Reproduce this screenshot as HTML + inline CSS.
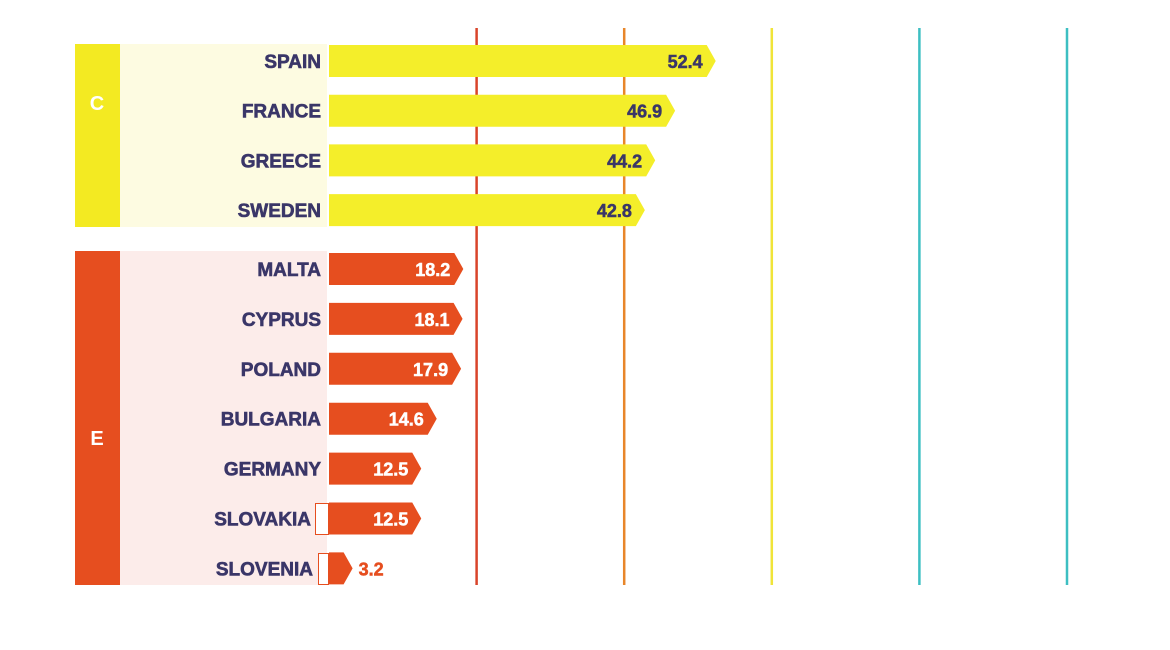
<!DOCTYPE html>
<html><head><meta charset="utf-8"><style>
body{margin:0;width:1170px;height:645px;background:#fff;overflow:hidden;font-family:"Liberation Sans",sans-serif}
</style></head><body>
<svg id="chart" width="1170" height="645" xmlns="http://www.w3.org/2000/svg"></svg>
<script>
const groupC = ["SPAIN","FRANCE","GREECE","SWEDEN"];
const valuesC = [52.4,46.9,44.2,42.8];
const groupE = ["MALTA","CYPRUS","POLAND","BULGARIA","GERMANY","SLOVAKIA","SLOVENIA"];
const valuesE = [18.2,18.1,17.9,14.6,12.5,12.5,3.2];
const gridValues = [20,40,60,80,100];
const gridColors = ["#d9442a","#e8862a","#f0e438","#3dbfc2","#3dbfc2"];

const NS="http://www.w3.org/2000/svg";
const svg=document.getElementById('chart');
const x0=329, k=7.38;
const xs=v=>x0+v*k;
function mk(t,a,p){const e=document.createElementNS(NS,t);for(const n in a)e.setAttribute(n,a[n]);(p||svg).appendChild(e);return e;}

let e;
e=mk('rect',{x:75,y:44,width:45,height:183,fill:'#f3ea22'});


e=mk('rect',{x:120,y:44,width:207,height:183,fill:'#fdfbe1'});


e=mk('rect',{x:75,y:251,width:45,height:334,fill:'#e64e1f'});


e=mk('rect',{x:120,y:251,width:207,height:334,fill:'#fcecea'});


e=mk('text',{x:97,y:110,fill:'#fff','font-size':20,'font-weight':'bold','text-anchor':'middle'});
e.textContent='C';


e=mk('text',{x:97,y:445,fill:'#fff','font-size':20,'font-weight':'bold','text-anchor':'middle'});
e.textContent='E';



gridValues.forEach((g,i)=>{
  const l=mk('line',{x1:xs(g),x2:xs(g),y1:28,y2:585,stroke:gridColors[i],'stroke-width':2.5});
  
  
});

function bar(name,v,cy,fill,txt){
  const end=xs(v), body=Math.max(end-9,x0+4);
  const p=mk('path',{d:`M${x0},${cy-16}L${body},${cy-16}L${end},${cy}L${body},${cy+16}L${x0},${cy+16}Z`,fill:fill});
  
  
  const lab=mk('text',{x:name==='SLOVAKIA'?311:(name==='SLOVENIA'?313:321),y:cy+7,'font-size':19,'font-weight':'bold',fill:'#3a3668',stroke:'#3a3668','stroke-width':0.6,'text-anchor':'end'});
  lab.textContent=name;
  
  
  const small=v<8;
  const t=mk('text',{x:small?end+6:body-4,y:cy+7,'font-size':18,'font-weight':'bold',fill:small?'#e64e1f':txt,stroke:small?'#e64e1f':txt,'stroke-width':0.5,'text-anchor':small?'start':'end'});
  t.textContent=v.toFixed(1);
  
  
}
groupC.forEach((n,i)=>bar(n,valuesC[i],61+i*49.7,'#f4ee2a','#3a3668'));
groupE.forEach((n,i)=>bar(n,valuesE[i],269+i*49.9,'#e64e1f','#ffffff'));

// small white boxes before slovakia / slovenia bars
e=mk('rect',{x:315.5,y:503.5,width:13,height:31,fill:'#fff',stroke:'#e64e1f','stroke-width':1});


e=mk('rect',{x:318.5,y:553.5,width:10,height:31,fill:'#fff',stroke:'#e64e1f','stroke-width':1});


</script>
</body></html>
